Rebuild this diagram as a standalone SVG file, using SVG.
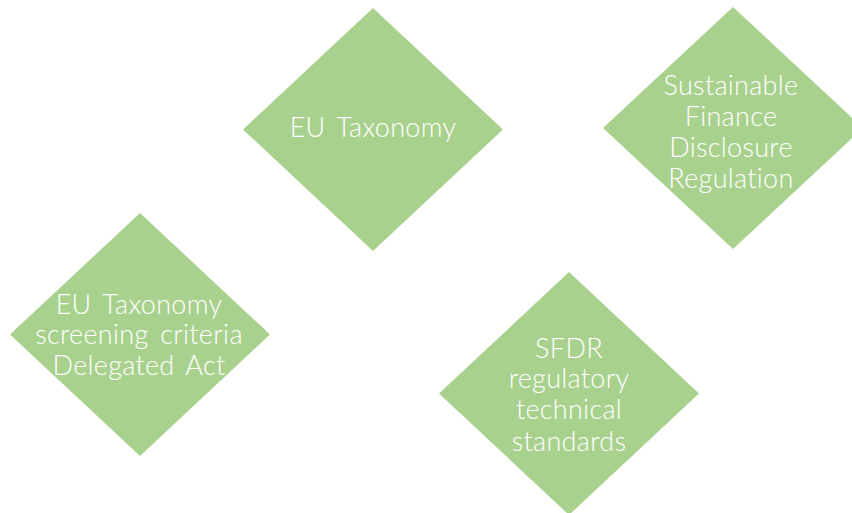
<svg xmlns="http://www.w3.org/2000/svg" width="852" height="513" viewBox="0 0 852 513">
  <style>
    .shape { fill: #a9d18e; stroke: none; }
    .label { fill: #ffffff; font-family: Lato, "Open Sans", "Liberation Sans", sans-serif; font-weight: 300; font-size: 27px; letter-spacing: 0.3px; text-anchor: middle; word-spacing: 4px; font-variant-ligatures: none; }
  </style>
  <rect width="852" height="513" fill="#ffffff"/>
  <g id="connectors"></g>
  <g id="eu-taxonomy">
    <polygon class="shape" points="373,8 503,129.5 373,251 243,129.5"/>
    <text class="label" x="373" y="137">EU Taxonomy</text>
  </g>
  <g id="sfdr">
    <polygon class="shape" points="733,7 863,128 733,249 603,128"/>
    <text class="label"><tspan x="731" y="95">Sustainable</tspan><tspan x="731" y="126">Finance</tspan><tspan x="731" y="157">Disclosure</tspan><tspan x="731" y="188">Regulation</tspan></text>
  </g>
  <g id="taxonomy-delegated-act">
    <polygon class="shape" points="140,213 270,334.5 140,456 10,334.5"/>
    <text class="label"><tspan x="139" y="314">EU Taxonomy</tspan><tspan x="139" y="344">screening criteria</tspan><tspan x="139" y="375">Delegated Act</tspan></text>
  </g>
  <g id="sfdr-rts">
    <polygon class="shape" points="569,272 699,393.5 569,515 439,393.5"/>
    <text class="label"><tspan x="569" y="358">SFDR</tspan><tspan x="569" y="388">regulatory</tspan><tspan x="569" y="419">technical</tspan><tspan x="569" y="451">standards</tspan></text>
  </g>
</svg>
